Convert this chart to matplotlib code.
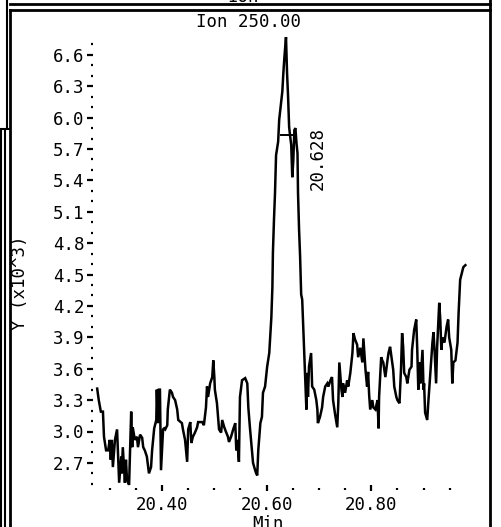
import matplotlib
matplotlib.use("Agg")
import matplotlib.pyplot as plt
from matplotlib.lines import Line2D
from matplotlib.ticker import FixedLocator, MultipleLocator, FormatStrFormatter

# ---- data ----
time_min = [
    20.276, 20.279, 20.283, 20.287, 20.289, 20.293, 20.297, 20.300, 20.302, 20.304,
    20.306, 20.310, 20.314, 20.316, 20.318, 20.322, 20.323, 20.325, 20.329, 20.331,
    20.333, 20.337, 20.339, 20.341, 20.343, 20.344, 20.348, 20.352, 20.354, 20.358,
    20.362, 20.364, 20.367, 20.371, 20.375, 20.379, 20.381, 20.385, 20.389, 20.390,
    20.392, 20.394, 20.396, 20.398, 20.402, 20.404, 20.406, 20.410, 20.411, 20.415,
    20.419, 20.421, 20.425, 20.429, 20.431, 20.438, 20.440, 20.444, 20.448, 20.450,
    20.454, 20.456, 20.459, 20.463, 20.467, 20.469, 20.477, 20.480, 20.484, 20.486,
    20.488, 20.492, 20.496, 20.498, 20.500, 20.501, 20.505, 20.509, 20.513, 20.515,
    20.519, 20.522, 20.526, 20.528, 20.532, 20.536, 20.540, 20.542, 20.544, 20.547,
    20.549, 20.553, 20.559, 20.563, 20.565, 20.568, 20.572, 20.574, 20.578, 20.580,
    20.582, 20.584, 20.588, 20.591, 20.593, 20.597, 20.601, 20.605, 20.609, 20.611,
    20.612, 20.614, 20.616, 20.618, 20.622, 20.624, 20.630, 20.632, 20.634, 20.637,
    20.639, 20.641, 20.643, 20.645, 20.647, 20.649, 20.651, 20.653, 20.655, 20.657,
    20.659, 20.660, 20.662, 20.664, 20.666, 20.668, 20.670, 20.674, 20.676, 20.678,
    20.679, 20.681, 20.685, 20.687, 20.691, 20.695, 20.697, 20.698, 20.702, 20.706,
    20.708, 20.712, 20.716, 20.718, 20.722, 20.725, 20.727, 20.731, 20.735, 20.737,
    20.739, 20.743, 20.745, 20.746, 20.750, 20.754, 20.756, 20.760, 20.764, 20.766,
    20.769, 20.773, 20.775, 20.779, 20.783, 20.785, 20.789, 20.792, 20.794, 20.796,
    20.798, 20.802, 20.804, 20.808, 20.812, 20.814, 20.815, 20.819, 20.821, 20.823,
    20.827, 20.831, 20.833, 20.836, 20.840, 20.842, 20.844, 20.848, 20.850, 20.854,
    20.857, 20.859, 20.861, 20.863, 20.867, 20.869, 20.873, 20.877, 20.878, 20.882,
    20.886, 20.888, 20.890, 20.892, 20.894, 20.898, 20.900, 20.901, 20.903, 20.907,
    20.909, 20.913, 20.917, 20.919, 20.921, 20.924, 20.926, 20.930, 20.932, 20.934,
    20.936, 20.940, 20.944, 20.947, 20.949, 20.953, 20.955, 20.957, 20.961, 20.965,
    20.967, 20.970, 20.974, 20.976, 20.980,
]
intensity_k = [
    3.41, 3.30, 3.19, 3.19, 2.95, 2.82, 2.82, 2.92, 2.73, 2.92,
    2.66, 2.92, 3.02, 2.76, 2.51, 2.76, 2.60, 2.85, 2.51, 2.73,
    2.54, 2.49, 2.85, 3.19, 2.85, 3.04, 2.92, 2.95, 2.85, 2.97,
    2.94, 2.85, 2.82, 2.76, 2.60, 2.66, 2.82, 3.03, 3.11, 3.40,
    3.08, 3.40, 3.40, 2.63, 3.02, 3.03, 3.02, 3.06, 3.21, 3.40,
    3.37, 3.33, 3.30, 3.21, 3.11, 3.08, 3.02, 2.92, 2.71, 3.02,
    3.09, 2.89, 2.95, 2.99, 3.04, 3.09, 3.09, 3.06, 3.23, 3.43,
    3.33, 3.46, 3.52, 3.68, 3.52, 3.40, 3.27, 3.02, 2.99, 3.11,
    3.04, 3.00, 2.95, 2.90, 2.95, 3.02, 3.08, 2.82, 2.92, 2.71,
    3.33, 3.49, 3.51, 3.46, 3.23, 3.04, 2.82, 2.70, 2.63, 2.60,
    2.58, 2.82, 3.08, 3.14, 3.37, 3.43, 3.62, 3.75, 4.09, 4.38,
    4.71, 5.02, 5.28, 5.64, 5.77, 5.98, 6.25, 6.43, 6.58, 6.77,
    6.43, 6.20, 5.91, 5.82, 5.74, 5.43, 5.59, 5.88, 5.90, 5.76,
    5.66, 5.28, 4.93, 4.67, 4.31, 4.26, 4.00, 3.46, 3.21, 3.56,
    3.33, 3.62, 3.75, 3.43, 3.40, 3.30, 3.21, 3.08, 3.14, 3.23,
    3.33, 3.43, 3.46, 3.43, 3.49, 3.52, 3.30, 3.16, 3.04, 3.27,
    3.66, 3.40, 3.33, 3.46, 3.37, 3.49, 3.43, 3.56, 3.75, 3.94,
    3.88, 3.83, 3.71, 3.80, 3.66, 3.89, 3.59, 3.43, 3.57, 3.35,
    3.21, 3.30, 3.23, 3.21, 3.30, 3.03, 3.33, 3.71, 3.68, 3.66,
    3.52, 3.68, 3.75, 3.81, 3.66, 3.59, 3.43, 3.33, 3.30, 3.27,
    3.61, 3.94, 3.81, 3.56, 3.52, 3.46, 3.59, 3.62, 3.78, 3.97,
    4.07, 3.78, 3.40, 3.66, 3.46, 3.78, 3.40, 3.46, 3.18, 3.11,
    3.27, 3.56, 3.85, 3.95, 3.78, 3.46, 3.81, 4.23, 4.07, 3.78,
    3.90, 3.85, 4.00, 4.07, 3.90, 3.78, 3.46, 3.66, 3.68, 3.85,
    4.13, 4.45, 4.53, 4.57, 4.59,
]
y_ticks = [2.7, 3.0, 3.3, 3.6, 3.9, 4.2, 4.5, 4.8, 5.1, 5.4, 5.7, 6.0, 6.3, 6.6]
x_ticks = [20.40, 20.60, 20.80]
peak_rt = 20.628
peak_label = "20.628"
marker_end = 20.655
marker_level = 5.83
title = "Ion 250.00"
x_label = "Min"
y_label = "Y (x10^3)"

W, H = 502, 527
FONT = "DejaVu Sans Mono"
FS = 12.5

fig = plt.figure(figsize=(W / 100, H / 100), dpi=100)
fig.patch.set_facecolor("white")


def fx(px):
    return px / W


def fy(py):
    return 1 - py / H


ax = fig.add_axes([fx(93), fy(488), fx(468) - fx(93), fy(36) - fy(488)])
ax.set_facecolor("none")
ax.plot(time_min, intensity_k, color="black", lw=1.8, solid_joinstyle="miter")

ax.set_xlim(20.268, 20.985)
ax.set_ylim(2.46, 6.78)
for s in ax.spines.values():
    s.set_visible(False)

ax.yaxis.set_major_locator(FixedLocator(y_ticks))
ax.yaxis.set_major_formatter(FormatStrFormatter("%.1f"))
ax.yaxis.set_minor_locator(MultipleLocator(0.1))
ax.xaxis.set_major_locator(FixedLocator(x_ticks))
ax.xaxis.set_major_formatter(FormatStrFormatter("%.2f"))
ax.xaxis.set_minor_locator(MultipleLocator(0.05))

ax.tick_params(axis="y", which="major", direction="out", length=4.5, width=1.6,
               pad=1.5, labelsize=FS, color="black")
ax.tick_params(axis="x", which="major", direction="inout", length=5, width=1.6,
               pad=3, labelsize=FS, color="black")
ax.tick_params(which="minor", direction="out", length=1.3, width=1.6, color="black")
for lab in ax.get_xticklabels() + ax.get_yticklabels():
    lab.set_fontfamily(FONT)

# retention-time marker
ax.plot([peak_rt, marker_end], [marker_level, marker_level], color="black", lw=1.4)
ax.plot([marker_end, marker_end], [marker_level - 0.06, marker_level + 0.06],
        color="black", lw=1.4)
ax.text(20.697, 5.61, peak_label, rotation=90, ha="center", va="center",
        fontsize=FS, family=FONT)

# texts in figure coordinates
fig.text(fx(249), fy(22), title, ha="center", va="center", fontsize=FS, family=FONT)
fig.text(fx(20), fy(283), y_label, rotation=90, ha="center", va="center",
         fontsize=FS, family=FONT)
fig.text(fx(268), fy(524), x_label, ha="center", va="center", fontsize=FS, family=FONT)
fig.text(fx(243), fy(2), "Ion", ha="center", va="baseline", fontsize=FS, family=FONT)

# panel frame (scanned page borders)
def hline(y, x0, x1, lw=2.0):
    fig.add_artist(Line2D([fx(x0), fx(x1)], [fy(y), fy(y)], color="black", lw=lw,
                          transform=fig.transFigure))


def vline(x, y0, y1, lw=2.0):
    fig.add_artist(Line2D([fx(x), fx(x)], [fy(y0), fy(y1)], color="black", lw=lw,
                          transform=fig.transFigure))

hline(4, 10, 490)
hline(9.5, 10, 490)
vline(10, 9.5, 527)
vline(490, 0, 527)
vline(7, 0, 128, lw=1.5)
hline(129, 0, 10, lw=1.5)
vline(1, 130, 527, lw=1.5)
vline(5, 130, 527, lw=1.5)

fig.savefig("out.png", dpi=100, facecolor="white")
